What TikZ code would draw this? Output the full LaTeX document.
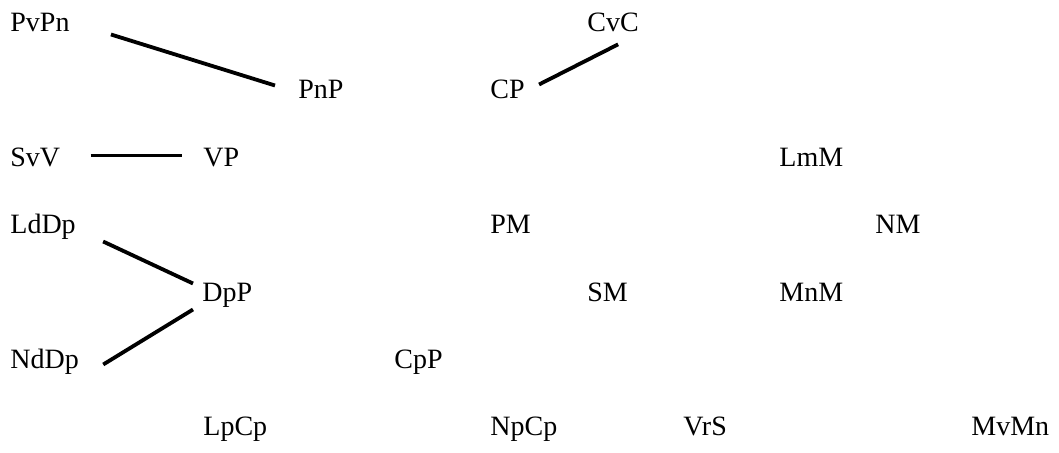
\documentclass[tikz,border=0pt]{standalone}
\usepackage{fontspec}
\setmainfont{Liberation Serif}
\usepackage{tikz}
\usetikzlibrary{calc}

\tikzset{
  word/.style={anchor=base west,inner sep=0pt,text height=0.7em,text depth=0.25em,
    font=\fontsize{14}{16}\selectfont},
  link/.style={line width=1.9pt}
}

\begin{document}
\begin{tikzpicture}[x=0.5pt,y=-0.5pt]
\useasboundingbox (0,0) rectangle (1059,453);
% words, left edge and baseline
\node[word] (PvPn) at (10,32) {PvPn};
\node[word] (CvC) at (587,32) {CvC};
\node[word] (PnP) at (298,99) {PnP};
\node[word] (CP) at (490,99) {CP};
\node[word] (SvV) at (10,167) {SvV};
\node[word] (VP) at (203,167) {VP};
\node[word] (LmM) at (779,167) {LmM};
\node[word] (LdDp) at (10,234) {LdDp};
\node[word] (PM) at (490,234) {PM};
\node[word] (NM) at (875,234) {NM};
\node[word] (DpP) at (202,302) {DpP};
\node[word] (SM) at (587,302) {SM};
\node[word] (MnM) at (779,302) {MnM};
\node[word] (NdDp) at (10,369) {NdDp};
\node[word] (CpP) at (394,369) {CpP};
\node[word] (LpCp) at (203,436) {LpCp};
\node[word] (NpCp) at (490,436) {NpCp};
\node[word] (VrS) at (683,436) {VrS};
\node[word] (MvMn) at (971,436) {MvMn};
% links
\draw[link] ([shift={(41,7)}]PvPn.east) -- ([shift={(-23,-9)}]PnP.west);
\draw[link] ([shift={(14,-10)}]CP.east) -- ([shift={(5,7)}]CvC.south);
\draw[link] ([shift={(30,-7)}]SvV.east) -- ([shift={(-21,-7)}]VP.west);
\draw[link] ([shift={(27,12)}]LdDp.east) -- ([shift={(-9,-14)}]DpP.west);
\draw[link] ([shift={(24,0)}]NdDp.east) -- ([shift={(-9,12)}]DpP.west);
\end{tikzpicture}
\end{document}
